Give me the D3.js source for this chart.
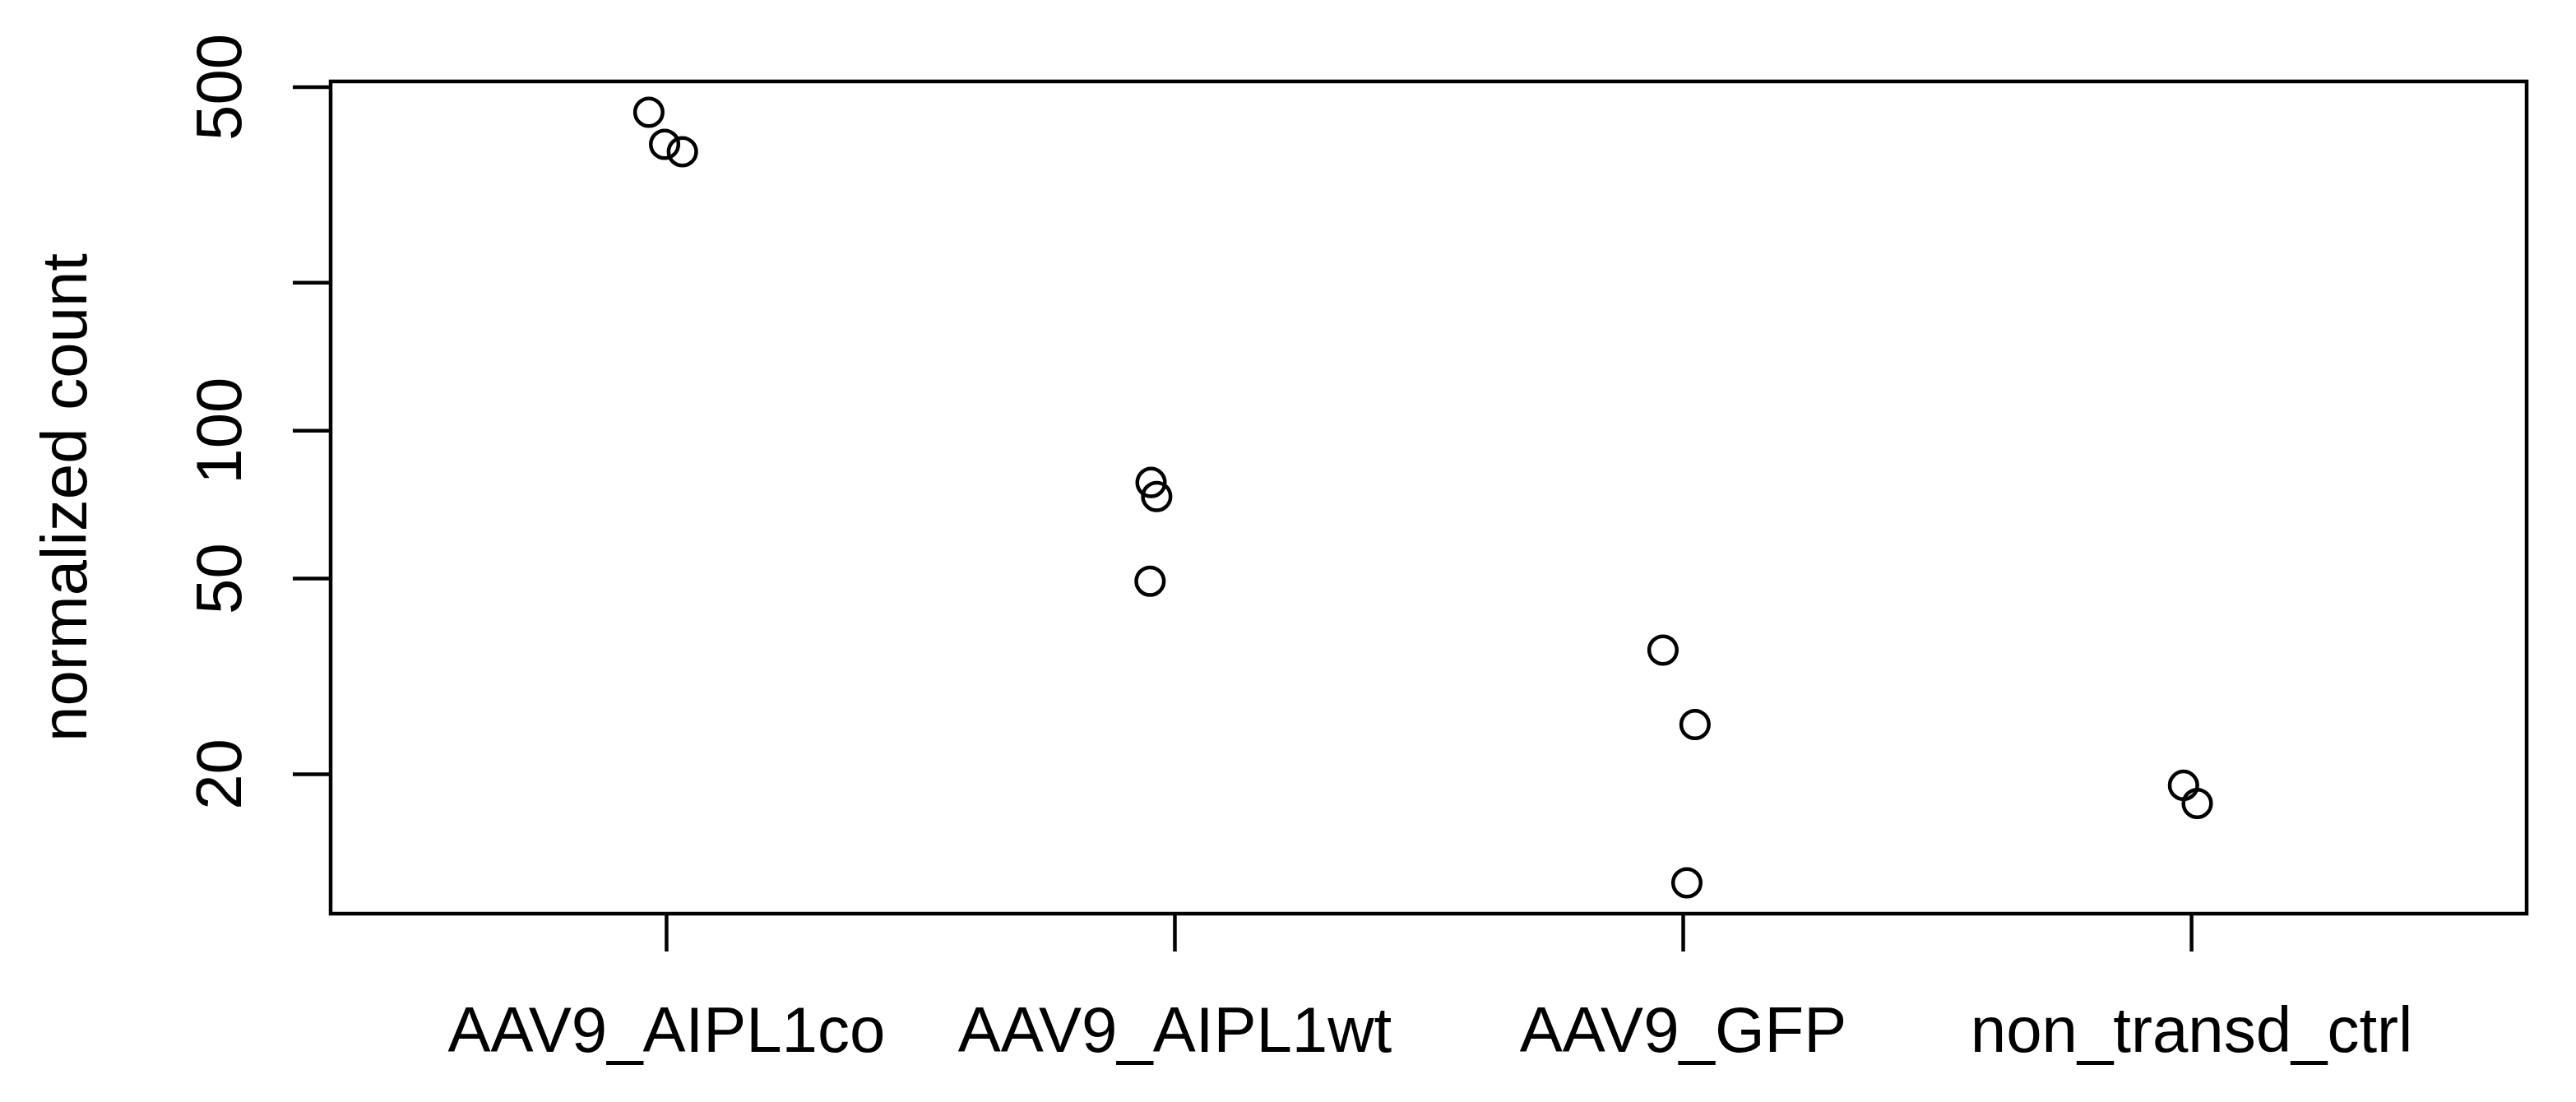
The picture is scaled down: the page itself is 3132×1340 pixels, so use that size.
<!DOCTYPE html>
<html>
<head>
<meta charset="utf-8">
<script src="https://cdn.jsdelivr.net/npm/d3@7"></script>
<style>
  body { margin: 0; background: #fff; }
  svg text { font-family: "Liberation Sans", Arial, sans-serif; fill: #000; }
</style>
</head>
<body>
<svg id="chart" width="3132" height="1340"></svg>
<script>
// groups and the normalized counts
const groups = ["AAV9_AIPL1co", "AAV9_AIPL1wt", "AAV9_GFP", "non_transd_ctrl"];
const aipl1coCounts = [443.6, 381.7, 368.7];
const aipl1wtCounts = [78.3, 73.3, 49.3];
const gfpCounts = [35.7, 25.2, 12.0];
const ctrlCounts = [18.95, 17.4];
// horizontal jitter of each point (in group units)
const aipl1coJitter = [-0.034, -0.003, 0.032];
const aipl1wtJitter = [-0.046, -0.035, -0.048];
const gfpJitter = [-0.039, 0.024, 0.008];
const ctrlJitter = [-0.015, 0.012];
const yTicks = [20, 50, 100, 200, 500];
const yTickLabels = ["20", "50", "100", "", "500"];

const counts = [aipl1coCounts, aipl1wtCounts, gfpCounts, ctrlCounts];
const jitters = [aipl1coJitter, aipl1wtJitter, gfpJitter, ctrlJitter];
let points = [];
counts.forEach((vals, i) => vals.forEach((v, j) => points.push({ g: i + 1, jit: jitters[i][j], v: v })));

const plotL = 402, plotR = 3072, plotT = 99, plotB = 1111;
const tickLen = 46;
const fontSize = 78;
const lw = 4.5;

// R style 4% padding, log scale on y
let ext = d3.extent(points, d => Math.log10(d.v));
let pad = (ext[1] - ext[0]) * 0.04;
let y = d3.scaleLog()
  .domain([Math.pow(10, ext[0] - pad), Math.pow(10, ext[1] + pad)])
  .range([plotB, plotT]);
let x = d3.scaleLinear()
  .domain([1 - 0.66, groups.length + 0.66])
  .range([plotL, plotR]);

let svg = d3.select("#chart");

// frame
svg.append("rect")
  .attr("x", plotL).attr("y", plotT)
  .attr("width", plotR - plotL).attr("height", plotB - plotT)
  .attr("fill", "none").attr("stroke", "#000").attr("stroke-width", lw);

// y axis
let yAxis = d3.axisLeft(y)
  .tickValues(yTicks)
  .tickSize(tickLen)
  .tickFormat((d, i) => yTickLabels[i]);
let ya = svg.append("g")
  .attr("transform", `translate(${plotL},0)`)
  .call(yAxis);
ya.select(".domain").remove();
ya.selectAll(".tick line").attr("stroke", "#000").attr("stroke-width", lw);
ya.selectAll(".tick text")
  .attr("font-size", fontSize)
  .attr("font-family", "Liberation Sans, Arial, sans-serif")
  .attr("text-anchor", "middle")
  .attr("x", null).attr("dy", null)
  .attr("transform", `translate(${293 - plotL},0) rotate(-90)`);

// x axis
let xAxis = d3.axisBottom(x)
  .tickValues(d3.range(1, groups.length + 1))
  .tickSize(tickLen)
  .tickFormat(d => groups[d - 1]);
let xa = svg.append("g")
  .attr("transform", `translate(0,${plotB})`)
  .call(xAxis);
xa.select(".domain").remove();
xa.selectAll(".tick line").attr("stroke", "#000").attr("stroke-width", lw);
xa.selectAll(".tick text")
  .attr("font-size", fontSize)
  .attr("font-family", "Liberation Sans, Arial, sans-serif")
  .attr("y", 1279 - plotB).attr("dy", null);

// y label
svg.append("text")
  .attr("transform", `translate(105,${(plotT + plotB) / 2}) rotate(-90)`)
  .attr("text-anchor", "middle")
  .attr("font-size", fontSize)
  .text("normalized count");

// points
svg.append("g").selectAll("circle")
  .data(points)
  .join("circle")
  .attr("cx", d => x(d.g + d.jit))
  .attr("cy", d => y(d.v))
  .attr("r", 16.8)
  .attr("fill", "none")
  .attr("stroke", "#000")
  .attr("stroke-width", lw);
</script>
</body>
</html>
